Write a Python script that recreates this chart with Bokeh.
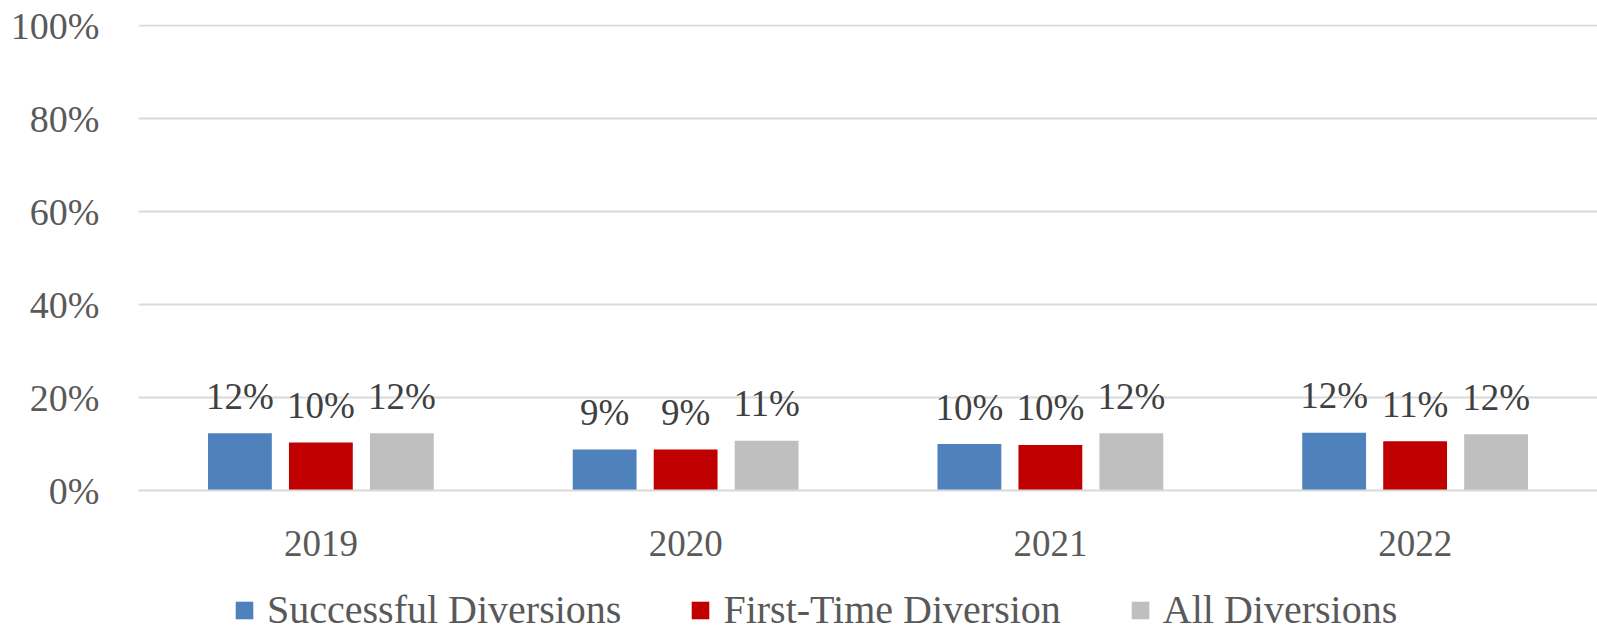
from bokeh.plotting import figure
from bokeh.layouts import column
from bokeh.models import ColumnDataSource, FactorRange, Legend, LegendItem, FixedTicker, CustomJSTickFormatter, Range1d
from bokeh.transform import dodge
from bokeh.core.properties import value
from bokeh.embed import file_html
from bokeh.resources import INLINE

years = ["2019", "2020", "2021", "2022"]
successful = [12.3, 8.8, 10.0, 12.4]
first_time = [10.3, 8.8, 9.8, 10.6]
all_div = [12.3, 10.7, 12.3, 12.1]
series_names = ["Successful Diversions", "First-Time Diversion", "All Diversions"]
colors = ["#4F81BD", "#C00000", "#BFBFBF"]
y_ticks = [0, 20, 40, 60, 80, 100]

FONT = "Liberation Serif"

src = ColumnDataSource(dict(
    years=years,
    s=successful, f=first_time, a=all_div,
    s_lab=[f"{round(v):d}%" for v in successful],
    f_lab=[f"{round(v):d}%" for v in first_time],
    a_lab=[f"{round(v):d}%" for v in all_div],
))

p = figure(x_range=FactorRange(*years, range_padding=0), y_range=Range1d(0, 100.25),
           width=1597, height=578, output_backend="svg", toolbar_location=None,
           min_border_left=138, min_border_right=0, min_border_top=24, min_border_bottom=88)
p.outline_line_color = None
p.background_fill_color = "white"
p.border_fill_color = "white"

offsets = [-0.222, 0.0, 0.222]
keys = ["s", "f", "a"]
for k, off, c in zip(keys, offsets, colors):
    p.vbar(x=dodge("years", off, range=p.x_range), top=k, width=0.175, source=src,
           fill_color=c, line_color=None)
    p.text(x=dodge("years", off, range=p.x_range), y=k, text=k + "_lab", source=src,
           text_align="center", text_baseline="alphabetic", y_offset=-37,
           text_font=value(FONT), text_font_size="37px", text_color="#404040")

p.yaxis.ticker = FixedTicker(ticks=y_ticks)
p.yaxis.formatter = CustomJSTickFormatter(code="return tick + '%';")
p.yaxis.axis_line_color = None
p.yaxis.major_tick_line_color = None
p.yaxis.minor_tick_line_color = None
p.yaxis.major_label_standoff = 33
p.yaxis.major_label_text_font = FONT
p.yaxis.major_label_text_font_size = "38px"
p.yaxis.major_label_text_color = "#595959"

p.xaxis.axis_line_color = "#D9D9D9"
p.xaxis.axis_line_width = 2
p.xaxis.major_tick_line_color = None
p.xaxis.major_tick_out = 0
p.xaxis.major_label_standoff = 40
p.xaxis.major_label_text_font = FONT
p.xaxis.major_label_text_font_size = "37px"
p.xaxis.major_label_text_color = "#595959"

p.xgrid.grid_line_color = None
p.ygrid.grid_line_color = "#D9D9D9"
p.ygrid.grid_line_width = 2

# legend strip
lg = figure(width=1597, height=55, output_backend="svg", toolbar_location=None,
            x_range=Range1d(0, 1), y_range=Range1d(0, 1), x_axis_type=None, y_axis_type=None,
            min_border=0)
lg.outline_line_color = None
lg.grid.grid_line_color = None
hidden = ColumnDataSource(dict(x=[10], top=[1]))
leg_renderers = [lg.vbar(x="x", top="top", width=0.1, source=hidden, fill_color=c, line_color=None)
                 for c in colors]
legend = Legend(items=[LegendItem(label=n, renderers=[r]) for n, r in zip(series_names, leg_renderers)],
                orientation="horizontal", location=(95, 0),
                glyph_width=22, glyph_height=22, label_standoff=12, spacing=68,
                padding=0, margin=0, border_line_color=None, background_fill_alpha=0,
                label_text_font=FONT, label_text_font_size="40px", label_text_color="#595959")
lg.add_layout(legend, "center")

open("out.html", "w").write(file_html(column(p, lg, spacing=0), INLINE))
